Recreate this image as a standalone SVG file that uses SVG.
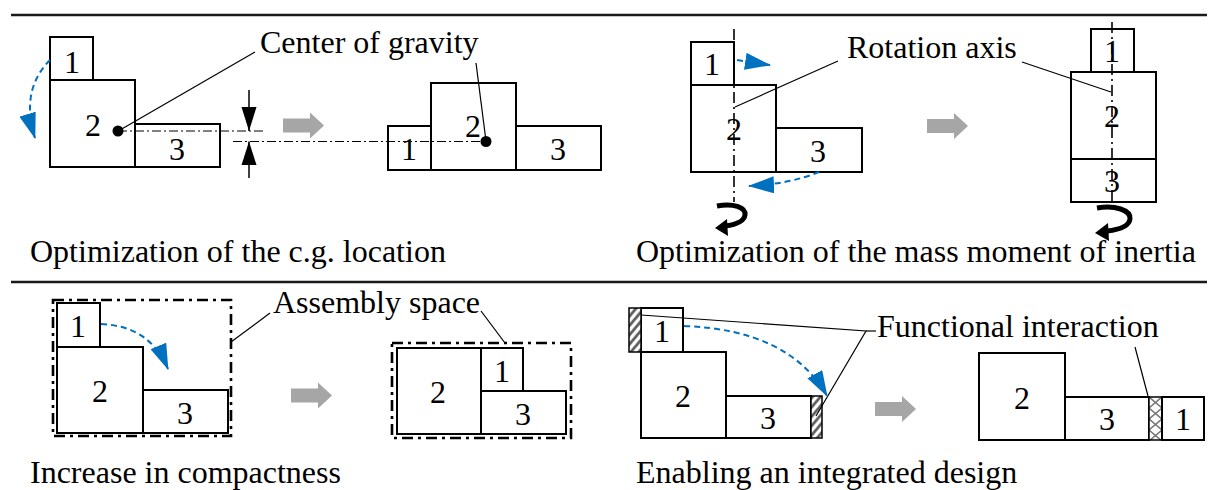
<svg xmlns="http://www.w3.org/2000/svg" width="1217" height="490" viewBox="0 0 1217 490">
<style>
text{font-family:"Liberation Serif","Times New Roman",serif;font-size:32px;fill:#000}
.n{text-anchor:middle}
.box{fill:#fff;stroke:#000;stroke-width:2}
.rule{stroke:#1a1a1a;stroke-width:2.5}
.lead{stroke:#000;stroke-width:1.2;fill:none}
.cl{stroke:#000;stroke-width:1;stroke-dasharray:9 3 2 3;fill:none}
.ax{stroke:#000;stroke-width:1.6;stroke-dasharray:11 4 2 4;fill:none}
.asm{stroke:#000;stroke-width:2.6;stroke-dasharray:11 5 3 5;fill:none}
.blue{stroke:#0070C0;stroke-width:2;stroke-dasharray:6 4;fill:none;marker-end:url(#bh)}
.gray{fill:#A6A6A6}
.rot{stroke:#000;stroke-width:5;fill:none}
</style>
<defs>
<marker id="bh" viewBox="0 0 26 17" refX="25" refY="8.5" markerUnits="userSpaceOnUse" markerWidth="26" markerHeight="17" orient="auto">
<path d="M0,0 L26,8.5 L0,17 z" fill="#0070C0"/>
</marker>
<pattern id="hatch" width="6" height="6" patternUnits="userSpaceOnUse" patternTransform="rotate(40)">
<rect width="6" height="6" fill="#fff"/>
<line x1="1.5" y1="0" x2="1.5" y2="6" stroke="#555" stroke-width="2.6"/>
</pattern>
<pattern id="xhatch" x="1149" y="397" width="13" height="22" patternUnits="userSpaceOnUse">
<rect width="13" height="22" fill="#fff"/>
<path d="M0,0 L13,11 L0,22 M13,0 L0,11 L13,22" stroke="#777" stroke-width="1.6" fill="none"/>
</pattern>
<polygon id="garrow" points="0,-7 27,-7 27,-13 41,0 27,13 27,7 0,7"/>
</defs>

<g id="rules">
<line class="rule" x1="11" y1="15" x2="1207" y2="15"/>
<line class="rule" x1="11" y1="282" x2="1207" y2="282"/>
</g>

<!-- Panel 1: c.g. location -->
<g id="p1-before">
<rect class="box" x="50" y="37" width="43" height="43"/>
<rect class="box" x="50" y="80" width="85" height="87"/>
<rect class="box" x="135" y="124" width="85" height="43"/>
<text class="n" x="72" y="73">1</text>
<text class="n" x="93" y="136">2</text>
<text class="n" x="177" y="160">3</text>
</g>
<g id="p1-after">
<rect class="box" x="388" y="126" width="43" height="44"/>
<rect class="box" x="431" y="83" width="85" height="87"/>
<rect class="box" x="516" y="126" width="85" height="44"/>
<text class="n" x="409" y="160">1</text>
<text class="n" x="473" y="137">2</text>
<text class="n" x="558" y="160">3</text>
</g>
<g id="p1-cg-label">
<text x="260" y="53">Center of gravity</text>
</g>

<!-- Panel 2: mass moment of inertia -->
<g id="p2-before">
<rect class="box" x="691" y="42" width="43" height="43"/>
<rect class="box" x="691" y="85" width="85" height="87"/>
<rect class="box" x="776" y="128" width="86" height="44"/>
<text class="n" x="712" y="75">1</text>
<text class="n" x="734" y="140">2</text>
<text class="n" x="818" y="162">3</text>
</g>
<g id="p2-after">
<rect class="box" x="1091" y="29" width="43" height="43"/>
<rect class="box" x="1071" y="72" width="85" height="87"/>
<rect class="box" x="1071" y="159" width="85" height="43"/>
<text class="n" x="1112" y="62">1</text>
<text class="n" x="1112" y="127">2</text>
<text class="n" x="1112" y="192">3</text>
</g>
<g id="p2-axis-label">
<text x="847" y="58">Rotation axis</text>
</g>

<!-- Panel 3: compactness -->
<g id="p3-before">
<rect class="box" x="57" y="303" width="43" height="44"/>
<rect class="box" x="57" y="347" width="86" height="86"/>
<rect class="box" x="143" y="390" width="85" height="43"/>
<text class="n" x="78" y="337">1</text>
<text class="n" x="100" y="402">2</text>
<text class="n" x="185" y="424">3</text>
<rect class="asm" x="53" y="300" width="178" height="136"/>
</g>
<g id="p3-after">
<rect class="box" x="397" y="348" width="84" height="86"/>
<rect class="box" x="481" y="348" width="42" height="43"/>
<rect class="box" x="481" y="391" width="85" height="43"/>
<text class="n" x="438" y="403">2</text>
<text class="n" x="502" y="382">1</text>
<text class="n" x="523" y="425">3</text>
<rect class="asm" x="392" y="343" width="179" height="95"/>
</g>
<g id="p3-asm-label">
<text x="273" y="313">Assembly space</text>
</g>

<!-- Panel 4: integrated design -->
<g id="p4-before">
<rect class="box" x="641" y="308" width="42" height="44"/>
<rect x="629" y="308" width="12" height="44" fill="url(#hatch)" stroke="#000" stroke-width="1.5"/>
<rect class="box" x="641" y="352" width="85" height="86"/>
<rect class="box" x="726" y="396" width="85" height="42"/>
<rect x="811" y="396" width="11" height="42" fill="url(#hatch)" stroke="#000" stroke-width="1.5"/>
<text class="n" x="662" y="342">1</text>
<text class="n" x="683" y="407">2</text>
<text class="n" x="768" y="429">3</text>
</g>
<g id="p4-after">
<rect class="box" x="979" y="353" width="86" height="87"/>
<rect class="box" x="1065" y="397" width="84" height="43"/>
<rect x="1149" y="397" width="13" height="43" fill="url(#xhatch)" stroke="#000" stroke-width="1.5"/>
<rect class="box" x="1162" y="397" width="42" height="43"/>
<text class="n" x="1022" y="409">2</text>
<text class="n" x="1107" y="430">3</text>
<text class="n" x="1183" y="430">1</text>
</g>
<g id="p4-fi-label">
<text x="877" y="337">Functional interaction</text>
</g>

<g id="captions">
<text x="30" y="262">Optimization of the c.g. location</text>
<text x="636" y="262">Optimization of the mass moment of inertia</text>
<text x="30" y="483">Increase in compactness</text>
<text x="636" y="483">Enabling an integrated design</text>
</g>

<g id="connectors">
<!-- panel 1 -->
<line class="cl" x1="118" y1="131" x2="266" y2="131"/>
<line class="cl" x1="233" y1="141.5" x2="486" y2="141.5"/>
<circle cx="118" cy="131" r="5.5" fill="#000"/>
<circle cx="486" cy="141.5" r="5.5" fill="#000"/>
<line class="lead" x1="120" y1="130" x2="255" y2="52"/>
<line class="lead" x1="476" y1="63" x2="486" y2="141"/>
<line x1="249" y1="90" x2="249" y2="131" stroke="#000" stroke-width="1.5"/>
<polygon points="249,131 241.5,107 256.5,107" fill="#000"/>
<line x1="249" y1="141.5" x2="249" y2="178" stroke="#000" stroke-width="1.5"/>
<polygon points="249,141.5 241.5,165 256.5,165" fill="#000"/>
<path class="blue" d="M50,60 Q20,90 35,138"/>
<use href="#garrow" class="gray" x="283" y="125.5"/>
<!-- panel 2 -->
<line class="ax" x1="734" y1="29" x2="734" y2="202"/>
<line class="ax" x1="1112" y1="22" x2="1112" y2="206"/>
<line class="lead" x1="838" y1="61" x2="735" y2="107"/>
<line class="lead" x1="1022" y1="62" x2="1111" y2="92"/>
<path class="blue" d="M737,60 L770,65"/>
<path class="blue" d="M819,172 Q790,184 749,186"/>
<use href="#garrow" class="gray" x="927" y="126"/>
<path class="rot" d="M717,206 C733,203 746,207 745,215 C744,222 733,225 725,226"/>
<polygon points="715,228 727,219 728,236" fill="#000"/>
<path class="rot" d="M1097,208 C1115,205 1131,210 1130,219 C1129,227 1116,230 1107,231" stroke-width="6"/>
<polygon points="1095,233 1108,223 1109,241" fill="#000"/>
<!-- panel 3 -->
<line class="lead" x1="231" y1="342" x2="270" y2="313"/>
<line class="lead" x1="481" y1="311" x2="505" y2="343"/>
<path class="blue" d="M101,324 Q150,326 168,369"/>
<use href="#garrow" class="gray" x="291" y="395.5"/>
<!-- panel 4 -->
<polyline class="lead" points="641,315 866,331 816,416"/>
<line class="lead" x1="866" y1="331" x2="876" y2="331"/>
<line class="lead" x1="1135" y1="347" x2="1148" y2="396"/>
<path class="blue" d="M684,326 Q790,330 827,396"/>
<use href="#garrow" class="gray" x="875" y="409"/>
</g>
</svg>
